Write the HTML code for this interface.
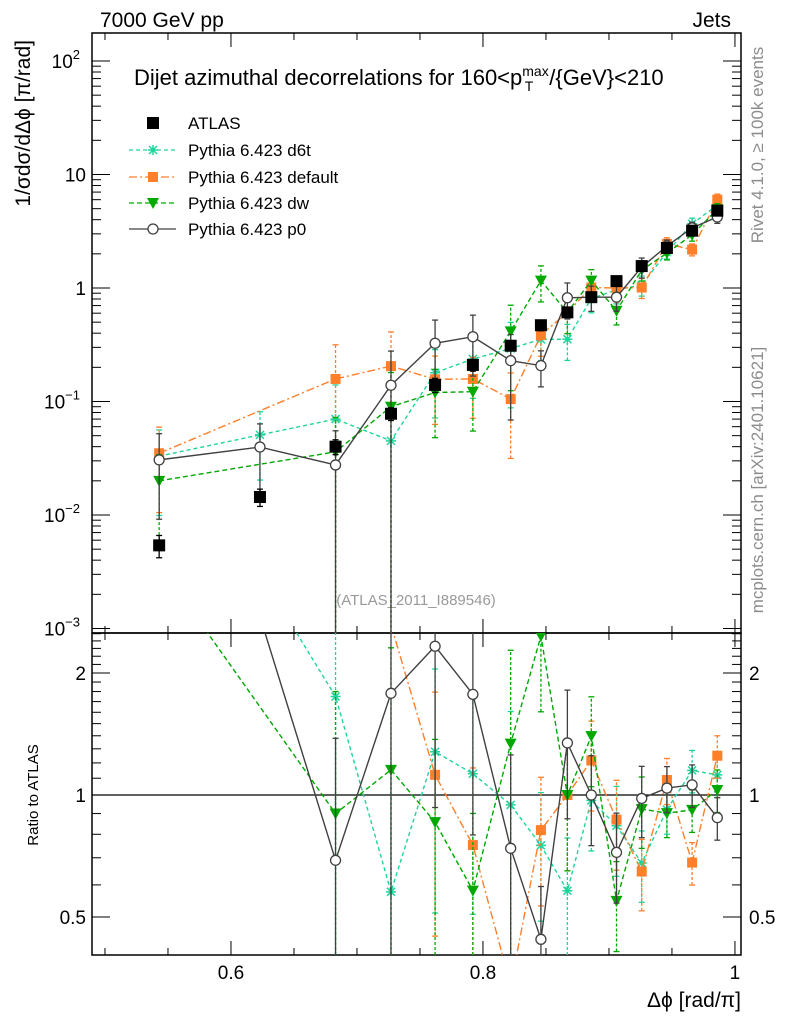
<!DOCTYPE html>
<html><head><meta charset="utf-8"><style>
html,body{margin:0;background:#fff;overflow:hidden;width:786px;height:1024px;}
svg{display:block;overflow:hidden;font-family:"Liberation Sans",sans-serif;}
</style></head><body>
<svg id="c" width="786" height="1024" viewBox="0 0 786 1024">
<text x="100" y="27" font-size="21">7000 GeV pp</text>
<text x="731" y="27" font-size="21" text-anchor="end">Jets</text>
<text x="134" y="85" font-size="22">Dijet azimuthal decorrelations for 160&lt;p<tspan font-size="14" dy="-9">max</tspan><tspan font-size="14" dx="-24" dy="15">T</tspan><tspan dy="-6" dx="16">/{GeV}&lt;210</tspan></text>
<text transform="translate(30,40) rotate(-90)" font-size="21" text-anchor="end">1/σdσ/dΔϕ [π/rad]</text>
<text transform="translate(38,795) rotate(-90)" font-size="15" text-anchor="middle">Ratio to ATLAS</text>
<text x="741" y="1007" font-size="21" text-anchor="end">Δϕ [rad/π]</text>
<text transform="translate(763,145) rotate(-90)" font-size="17" fill="#8c8c8c" text-anchor="middle">Rivet 4.1.0, ≥ 100k events</text>
<text transform="translate(763,480) rotate(-90)" font-size="17" fill="#8c8c8c" text-anchor="middle">mcplots.cern.ch [arXiv:2401.10621]</text>
<text x="416" y="605" font-size="15" fill="#999" text-anchor="middle">(ATLAS_2011_I889546)</text>
<g id="g"></g>
</svg>
<script>
const xs = [0.543,0.623,0.683,0.727,0.762,0.792,0.822,0.846,0.867,0.886,0.906,0.926,0.946,0.966,0.986];
const atlas = [0.0054,0.0144,0.040,0.078,0.14,0.21,0.31,0.47,0.61,0.83,1.15,1.56,2.25,3.2,4.8];
const atlasErr = [0.0012,0.0025,0.006,0.010,0.02,0.025,0.03,0.05,0.06,0.07,0.09,0.12,0.15,0.25,0.4];
const d6t = [0.033,0.0508,0.070,0.045,0.179,0.237,0.293,0.353,0.354,0.805,0.966,1.06,2.07,3.68,5.38];
const dflt = [0.035,null,0.158,0.205,0.157,0.158,0.105,0.385,0.61,1.01,1.0,1.01,2.45,2.18,6.0];
const dw = [0.020,null,0.036,0.09,0.12,0.122,0.415,1.16,0.61,1.16,0.63,1.44,2.03,2.94,4.94];
const p0 = [0.0306,0.0397,0.0276,0.139,0.326,0.372,0.229,0.207,0.82,0.83,0.83,1.53,2.34,3.39,4.22];
const relErr = [0.7,0.6,1.0,1.0,0.6,0.55,0.7,0.35,0.35,0.25,0.25,0.2,0.13,0.12,0.12];
const ticksX = [0.6,0.8,1];
const ticksR = [0.5,1,2];

const L=92,R=741,T=33,M=633,B=955;
const X=v=>L+(v-0.4897)/(1.0048-0.4897)*(R-L);
const Y=v=>288-Math.log10(v)*113.5;
const RY=v=>795-Math.log2(v)*122;
const clamp=(y,a,b)=>Math.max(a,Math.min(b,y));
const g=document.getElementById('g');
const NS='http://www.w3.org/2000/svg';
function mk(t,a,p){const e=document.createElementNS(NS,t);for(const k in a)e.setAttribute(k,a[k]);(p||g).appendChild(e);return e;}

let f=mk('rect',{x:L,y:T,width:R-L,height:M-T,fill:'none',stroke:'#000','stroke-width':1.5});


f=mk('rect',{x:L,y:M,width:R-L,height:B-M,fill:'none',stroke:'#000','stroke-width':1.5});



for(let v=0.5;v<=1.001;v+=0.05){
  const x=X(v);const maj=ticksX.some(t=>Math.abs(t-v)<1e-6);const len=maj?14:7;
  [[T,T+len],[M,M-len],[M,M+len],[B,B-len]].forEach(([a,b])=>mk('line',{x1:x,x2:x,y1:a,y2:b,stroke:'#000'}));
}
ticksX.forEach(v=>{const t=mk('text',{x:X(v),y:979,'font-size':19,'text-anchor':'middle'});t.textContent=v;

});
for(let d=-3;d<=2;d++){for(let m=1;m<10;m++){const v=m*Math.pow(10,d);const y=Y(v);if(y<T||y>M)continue;
 const len=m==1?18:9;mk('line',{x1:L,x2:L+len,y1:y,y2:y,stroke:'#000'});mk('line',{x1:R,x2:R-len,y1:y,y2:y,stroke:'#000'});}}
const ylab=[[-3,'10','−3'],[-2,'10','−2'],[-1,'10','−1'],[0,'1',''],[1,'10',''],[2,'10','2']];
ylab.forEach(([d,b,e])=>{const t=mk('text',{x:e?80:86,y:Y(Math.pow(10,d))+7,'font-size':19,'text-anchor':'end'});t.textContent=b;
 if(e){const s=mk('tspan',{'font-size':13,dy:-9},t);s.textContent=e;}
 
 });
for(let v=0.4;v<=2.55;v+=0.1){const y=RY(v);if(y<M||y>B)continue;const maj=ticksR.some(t=>Math.abs(t-v)<1e-6);const len=maj?18:9;
 mk('line',{x1:L,x2:L+len,y1:y,y2:y,stroke:'#000'});mk('line',{x1:R,x2:R-len,y1:y,y2:y,stroke:'#000'});}
ticksR.forEach(v=>{[[86,'end'],[749,'start']].forEach(([x,a])=>{const t=mk('text',{x:x,y:RY(v)+7,'font-size':19,'text-anchor':a});t.textContent=v;
 
 });});
mk('line',{x1:L,x2:R,y1:RY(1),y2:RY(1),stroke:'#000','stroke-width':1.3});

const defs=mk('defs',{});
let cp=mk('clipPath',{id:'cm'},defs);mk('rect',{x:L,y:T,width:R-L,height:M-T},cp);
cp=mk('clipPath',{id:'cr'},defs);mk('rect',{x:L,y:M,width:R-L,height:B-M},cp);
const gm=mk('g',{'clip-path':'url(#cm)'});const gr=mk('g',{'clip-path':'url(#cr)'});

function marker(p,type,x,y,c){
 if(type=='sq')return mk('rect',{x:x-6,y:y-6,width:12,height:12,fill:'#000'},p);
 if(type=='osq')return mk('rect',{x:x-5,y:y-5,width:10,height:10,fill:c},p);
 if(type=='tri')return mk('path',{d:`M${x-6},${y-5}L${x+6},${y-5}L${x},${y+6}Z`,fill:c},p);
 if(type=='circ')return mk('circle',{cx:x,cy:y,r:5,fill:'#fff',stroke:c,'stroke-width':1.3},p);
 if(type=='star')return mk('path',{d:`M${x-5},${y}H${x+5}M${x},${y-5}V${y+5}M${x-4},${y-4}L${x+4},${y+4}M${x-4},${y+4}L${x+4},${y-4}`,stroke:c,'stroke-width':1.5},p);
}
const series=[
 {d:d6t,c:'#1fd49c',dash:'4,3',m:'star',n:'d6t'},
 {d:dflt,c:'#ff7f2a',dash:'8,3,2,3',m:'osq',n:'default'},
 {d:dw,c:'#00a800',dash:'5,3',m:'tri',n:'dw'},
 {d:p0,c:'#404040',dash:'',m:'circ',n:'p0'}];
function drawErr(p,x,y1,y2,c,dash,top,bot){
 const a=clamp(y1,top,bot),b=clamp(y2,top,bot);
 mk('line',{x1:x,x2:x,y1:a,y2:b,stroke:c,'stroke-width':1.3,'stroke-dasharray':dash},p);
 [y1,y2].forEach(y=>{if(y>=top&&y<=bot)mk('line',{x1:x-3,x2:x+3,y1:y,y2:y,stroke:c,'stroke-width':1.3},p);});}
series.forEach(s=>{
 [[gm,(v,i)=>Y(v),(v,e)=>[Y(Math.max(v-e,1e-6)),Y(v+e)],T,M],[gr,(v,i)=>RY(v/atlas[i]),(v,e,i)=>[RY(Math.max((v-e)/atlas[i],1e-3)),RY((v+e)/atlas[i])],M,B]].forEach(([p,fy,fe,top,bot],pi)=>{
  const pts=[];
  s.d.forEach((v,i)=>{if(v==null)return;const py=fy(v,i);pts.push([X(xs[i]),py]);
   if(pi==1&&(py<top||py>bot))return;
   const e=v*relErr[i];const [a,b]=fe(v,e,i);drawErr(p,X(xs[i]),a,b,s.c,s.dash?'3,2':'',top,bot);});
  const l=mk('polyline',{points:pts.map(q=>q[0]+','+clamp(q[1],top-300,bot+300)).join(' '),fill:'none',stroke:s.c,'stroke-width':1.4,'stroke-dasharray':s.dash},p);
  
  
  pts.forEach(q=>{if(pi==1&&(q[1]<top||q[1]>bot))return;const mm=marker(p,s.m,q[0],q[1],s.c);
   
   });
 });
});
atlas.forEach((v,i)=>{const x=X(xs[i]);drawErr(gm,x,Y(v-atlasErr[i]),Y(v+atlasErr[i]),'#000','',T,M);
 const mm=marker(gm,'sq',x,Y(v));
 
 });

const leg=[['ATLAS','sq','#000',null],['Pythia 6.423 d6t','star','#1fd49c','4,3'],['Pythia 6.423 default','osq','#ff7f2a','8,3,2,3'],['Pythia 6.423 dw','tri','#00a800','5,3'],['Pythia 6.423 p0','circ','#404040','']];
const ly=[123,150,177,203,229];
leg.forEach((e,i)=>{const lg=mk('g',{});
 
 
 if(e[3]!==null)mk('line',{x1:129,x2:176,y1:ly[i],y2:ly[i],stroke:e[2],'stroke-width':1.3,'stroke-dasharray':e[3]},lg);
 marker(lg,e[1],153,ly[i],e[2]);
 const t=mk('text',{x:188,y:ly[i]+6,'font-size':17},lg);t.textContent=e[0];});
</script>
</body></html>
